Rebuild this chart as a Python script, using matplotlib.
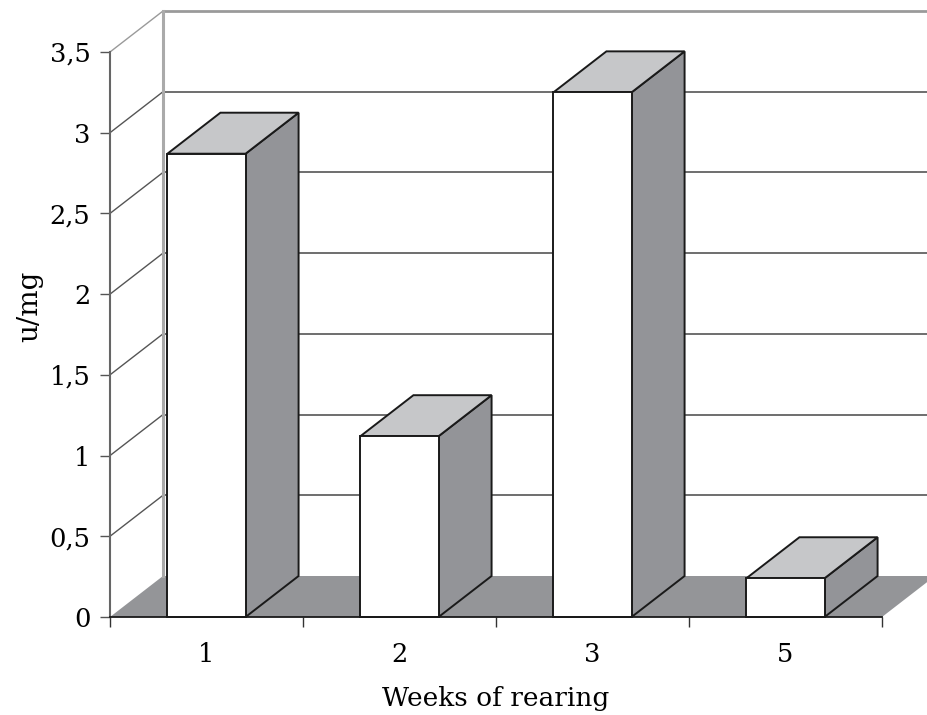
import numpy as np
import matplotlib
matplotlib.use('Agg')
import matplotlib.pyplot as plt
from matplotlib.patches import Polygon

plt.rcParams['font.family'] = ['DejaVu Serif']
plt.rcParams['font.size'] = 18.5

# data
weeks = ['1', '2', '3', '5']
activity = [2.87, 1.12, 3.25, 0.24]
yticks = [0, 0.5, 1, 1.5, 2, 2.5, 3, 3.5]
ytick_labels = ['0', '0,5', '1', '1,5', '2', '2,5', '3', '3,5']

# colours
side_col = '#939498'
top_col = '#c6c7c9'
floor_col = '#949598'

fig = plt.figure(figsize=(9.27, 7.15), dpi=100)
ax = fig.add_axes([110/927, 98/715, 772/927, 565/715])
ax.set_xlim(0, len(weeks))
ax.set_ylim(0, 3.5)

# depth of the fake 3d box (data units)
dx = 53/193
dy = 41/161.43
n = len(weeks)
ymax = yticks[-1]

# floor
ax.add_patch(Polygon([(0, 0), (n, 0), (n+dx, dy), (dx, dy)], closed=True,
                     facecolor=floor_col, edgecolor='none', zorder=1, clip_on=False))

# back wall grid lines + side wall diagonals
for v in yticks[1:]:
    c = '#9a9a9a' if v == ymax else '#555555'
    lw = 2 if v == ymax else 1.2
    ax.plot([dx, n+dx], [v+dy, v+dy], color=c, lw=lw, zorder=2, clip_on=False)
    ax.plot([0, dx], [v, v+dy], color=c, lw=1, zorder=2, clip_on=False)
ax.plot([dx, dx], [dy, ymax+dy], color='#aaaaaa', lw=2.2, zorder=2, clip_on=False)

# bars
w = 0.405
for i, v in enumerate(activity):
    x0 = i + 0.5 - w/2
    x1 = x0 + w
    front = Polygon([(x0, 0), (x1, 0), (x1, v), (x0, v)], closed=True,
                    facecolor='white', edgecolor='#1a1a1a', lw=1.4, zorder=5, clip_on=False)
    side = Polygon([(x1, 0), (x1+dx, dy), (x1+dx, v+dy), (x1, v)], closed=True,
                   facecolor=side_col, edgecolor='#1a1a1a', lw=1.4, zorder=4, clip_on=False)
    top = Polygon([(x0, v), (x1, v), (x1+dx, v+dy), (x0+dx, v+dy)], closed=True,
                  facecolor=top_col, edgecolor='#1a1a1a', lw=1.4, zorder=4, clip_on=False)
    ax.add_patch(side)
    ax.add_patch(top)
    ax.add_patch(front)

# axes lines
for s in ['top', 'right']:
    ax.spines[s].set_visible(False)
ax.spines['left'].set_color('#666666')
ax.spines['left'].set_linewidth(1.5)
ax.spines['bottom'].set_color('#1a1a1a')
ax.spines['bottom'].set_linewidth(1.3)
ax.spines['bottom'].set_zorder(6)
ax.set_facecolor('none')

ax.set_yticks(yticks)
ax.set_yticklabels(ytick_labels)
ax.tick_params(axis='y', direction='out', length=7, width=1, color='#555555', pad=7)

ax.set_xticks(np.arange(n+1))
ax.set_xticklabels([])
ax.set_xticks(np.arange(n) + 0.5, minor=True)
ax.set_xticklabels(weeks, minor=True)
ax.tick_params(axis='x', which='major', direction='out', length=7, width=1, color='#333333')
ax.tick_params(axis='x', which='minor', length=0, pad=18)

ax.set_xlabel('Weeks of rearing', fontsize=19)
ax.xaxis.set_label_coords(0.5, -89/565)
ax.xaxis.label.set_verticalalignment('baseline')
ax.set_ylabel('u/mg', fontsize=20)
ax.yaxis.label.set_verticalalignment('center')
ax.yaxis.set_label_coords(-80/772, 311/565)

plt.savefig('out.png', dpi=100)
